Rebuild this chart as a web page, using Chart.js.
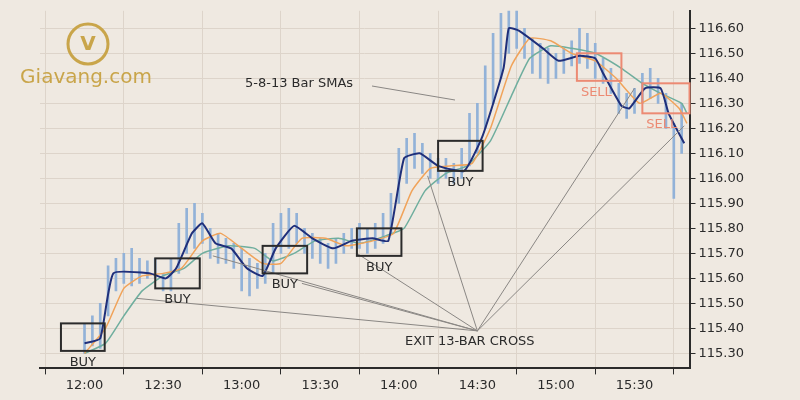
<!DOCTYPE html>
<html><head><meta charset="utf-8">
<script src="https://cdn.jsdelivr.net/npm/chart.js@4/dist/chart.umd.min.js"></script>
<style>body{margin:0;background:#efe9e1}</style>
</head><body>
<canvas id="c" width="800" height="400"></canvas>
<script>
// minutes after 12:00
const barMinutes = [0,3,6,9,12,15,18,21,24,27,30,33,36,39,42,45,48,51,54,57,60,63,66,69,72,75,78,81,84,87,90,93,96,99,102,105,108,111,114,117,120,123,126,129,132,135,138,141,144,147,150,153,156,159,162,165,168,171,174,177,180,183,186,189,192,195,198,201,204,207,210,213,216,219,222,225,228];
const barLow = [115.30,115.33,115.32,115.45,115.55,115.58,115.57,115.58,115.60,115.60,115.55,115.55,115.62,115.70,115.72,115.74,115.68,115.66,115.66,115.64,115.55,115.53,115.56,115.58,115.62,115.70,115.72,115.74,115.70,115.68,115.66,115.64,115.66,115.70,115.72,115.72,115.70,115.72,115.74,115.78,115.90,115.98,116.04,116.02,116.00,115.98,116.00,115.98,116.00,116.05,116.10,116.20,116.30,116.40,116.50,116.52,116.48,116.42,116.40,116.38,116.40,116.42,116.45,116.46,116.44,116.40,116.38,116.34,116.26,116.24,116.26,116.30,116.32,116.30,116.20,115.92,116.10];
const barHigh = [115.42,115.45,115.50,115.65,115.68,115.70,115.72,115.68,115.67,115.68,115.62,115.68,115.82,115.88,115.90,115.86,115.80,115.78,115.76,115.74,115.72,115.68,115.66,115.70,115.82,115.86,115.88,115.86,115.80,115.78,115.76,115.74,115.76,115.78,115.80,115.82,115.80,115.82,115.86,115.94,116.12,116.16,116.18,116.14,116.10,116.08,116.08,116.06,116.12,116.26,116.30,116.45,116.58,116.66,116.68,116.68,116.60,116.56,116.54,116.52,116.50,116.52,116.55,116.60,116.58,116.54,116.48,116.44,116.38,116.34,116.36,116.42,116.44,116.40,116.34,116.22,116.30];

const sma5Min = [0,6,11,25,31,35,41,45,50,56,62,68,73,80,87,95,102,110,116,122,128,135,145,152,160,162,166,175,181,189,195,198,205,208,214,220,223,229];
const sma5Val = [115.34,115.36,115.62,115.62,115.60,115.64,115.78,115.82,115.74,115.72,115.64,115.61,115.72,115.81,115.76,115.72,115.75,115.76,115.75,116.08,116.10,116.05,116.03,116.17,116.44,116.60,116.59,116.52,116.47,116.49,116.48,116.42,116.29,116.28,116.36,116.36,116.26,116.14];
const sma8Min = [0,8,15,22,30,37,45,52,60,68,75,83,92,100,110,118,125,132,140,148,155,163,170,178,186,195,203,212,220,227,230];
const sma8Val = [115.30,115.40,115.56,115.61,115.62,115.64,115.75,115.78,115.72,115.66,115.66,115.76,115.76,115.73,115.75,115.78,115.95,116.04,116.05,116.06,116.20,116.45,116.56,116.55,116.50,116.47,116.40,116.30,116.34,116.28,116.22];
const sma13Min = [0,8,15,22,30,38,45,55,65,72,80,88,97,105,115,122,130,138,146,155,163,170,178,186,195,205,213,220,228,230];
const sma13Val = [115.30,115.34,115.45,115.55,115.61,115.64,115.70,115.73,115.72,115.67,115.70,115.75,115.76,115.74,115.77,115.80,115.95,116.02,116.05,116.15,116.33,116.48,116.53,116.52,116.50,116.44,116.38,116.34,116.30,116.26];

const xTicks = [0,30,60,90,120,150,180,210];
const xLabels = ['12:00','12:30','13:00','13:30','14:00','14:30','15:00','15:30'];

// signal boxes: [x0,x1,yTop,yBottom,label,kind]
const boxes = [
  [-9,7.7,115.42,115.31,'BUY','buy'],
  [27,44,115.68,115.56,'BUY','buy'],
  [68,85,115.73,115.62,'BUY','buy'],
  [104,121,115.80,115.69,'BUY','buy'],
  [135,152,116.15,116.03,'BUY','buy'],
  [188,205,116.50,116.39,'SELL','sell'],
  [213,231,116.38,116.26,'SELL','sell']
];
const crossPoint = [150,115.39];
const crossFrom = [[20,115.52],[49,115.69],[83,115.58],[104,115.70],[131,116.01],[210,116.36],[229,116.21]];

const pair = (xs, ys) => xs.map((x, i) => ({x: x, y: ys[i]}));

const overlay = {
  id: 'overlay',
  afterDatasetsDraw(chart) {
    const c = chart.ctx, xs = chart.scales.x, ys = chart.scales.y;
    c.save();
    c.strokeStyle = '#8a8784'; c.lineWidth = 1;
    const cx = xs.getPixelForValue(crossPoint[0]), cy = ys.getPixelForValue(crossPoint[1]);
    crossFrom.forEach(p => {
      c.beginPath(); c.moveTo(xs.getPixelForValue(p[0]), ys.getPixelForValue(p[1])); c.lineTo(cx, cy); c.stroke();
    });
    c.beginPath(); c.moveTo(372, 86); c.lineTo(455, 100); c.stroke();
    c.font = '13px "DejaVu Sans"';
    boxes.forEach(b => {
      const x0 = xs.getPixelForValue(b[0]), x1 = xs.getPixelForValue(b[1]);
      const y0 = ys.getPixelForValue(b[2]), y1 = ys.getPixelForValue(b[3]);
      const col = b[5] === 'buy' ? '#2b2b2b' : '#ec8a73';
      c.strokeStyle = col; c.lineWidth = 2; c.strokeRect(x0, y0, x1 - x0, y1 - y0);
      c.fillStyle = col; c.textAlign = b[5] === 'buy' ? 'center' : 'left'; c.textBaseline = 'top';
      c.fillText(b[4], b[5] === 'buy' ? (x0 + x1) / 2 : x0 + 4, y1 + 5);
    });
    c.fillStyle = '#2b2b2b'; c.textAlign = 'left'; c.textBaseline = 'middle';
    c.fillText('5-8-13 Bar SMAs', 245, 84);
    c.fillText('EXIT 13-BAR CROSS', 405, 342);
    // logo
    c.strokeStyle = '#c9a54a'; c.lineWidth = 3;
    c.beginPath(); c.arc(88, 44, 20, 0, Math.PI * 2); c.stroke();
    c.fillStyle = '#c9a54a'; c.font = 'bold 20px "DejaVu Sans"'; c.textAlign = 'center';
    c.fillText('V', 88, 45);
    c.font = '20px "DejaVu Sans"'; c.fillText('Giavang.com', 86, 78);
    c.restore();
  }
};

const bg = {
  id: 'bg',
  beforeDraw(chart) { const c = chart.ctx; c.save(); c.fillStyle = '#efe9e1'; c.fillRect(0, 0, 800, 400); c.restore(); }
};

new Chart(document.getElementById('c'), {
  data: {
    datasets: [
      {type: 'bar', data: barMinutes.map((m, i) => ({x: m, y: [barLow[i], barHigh[i]]})), backgroundColor: '#92b2d8', barThickness: 2, order: 4},
      {type: 'line', data: pair(sma13Min, sma13Val), borderColor: '#6fae9e', borderWidth: 1.5, pointRadius: 0, tension: 0.15, order: 3},
      {type: 'line', data: pair(sma8Min, sma8Val), borderColor: '#f0a35a', borderWidth: 1.5, pointRadius: 0, tension: 0.15, order: 2},
      {type: 'line', data: pair(sma5Min, sma5Val), borderColor: '#1f2f7a', borderWidth: 2, pointRadius: 0, tension: 0.15, order: 1}
    ]
  },
  options: {
    responsive: false, animation: false,
    layout: {padding: {left: 40, right: 53, top: 0, bottom: 4}},
    plugins: {legend: {display: false}, tooltip: {enabled: false}},
    scales: {
      x: {type: 'linear', min: -17, max: 231, offset: false,
        afterBuildTicks: s => { s.ticks = xTicks.map(v => ({value: v})); },
        ticks: {callback: v => xLabels[xTicks.indexOf(v)], color: '#2b2b2b', font: {size: 13, family: 'DejaVu Sans'}},
        grid: {color: '#ddd4ca', drawTicks: true, tickLength: 6, tickColor: '#2b2b2b'},
        border: {color: '#2b2b2b', width: 2}},
      y: {position: 'right', min: 115.24, max: 116.67,
        afterBuildTicks: s => { const t = []; for (let v = 115.30; v <= 116.605; v += 0.1) t.push({value: +v.toFixed(2)}); s.ticks = t; },
        ticks: {callback: v => v.toFixed(2), color: '#2b2b2b', font: {size: 13, family: 'DejaVu Sans'}},
        grid: {color: '#ddd4ca', tickLength: 6, tickColor: '#2b2b2b'},
        border: {color: '#2b2b2b', width: 2}}
    }
  },
  plugins: [bg, overlay]
});
</script>
</body></html>
